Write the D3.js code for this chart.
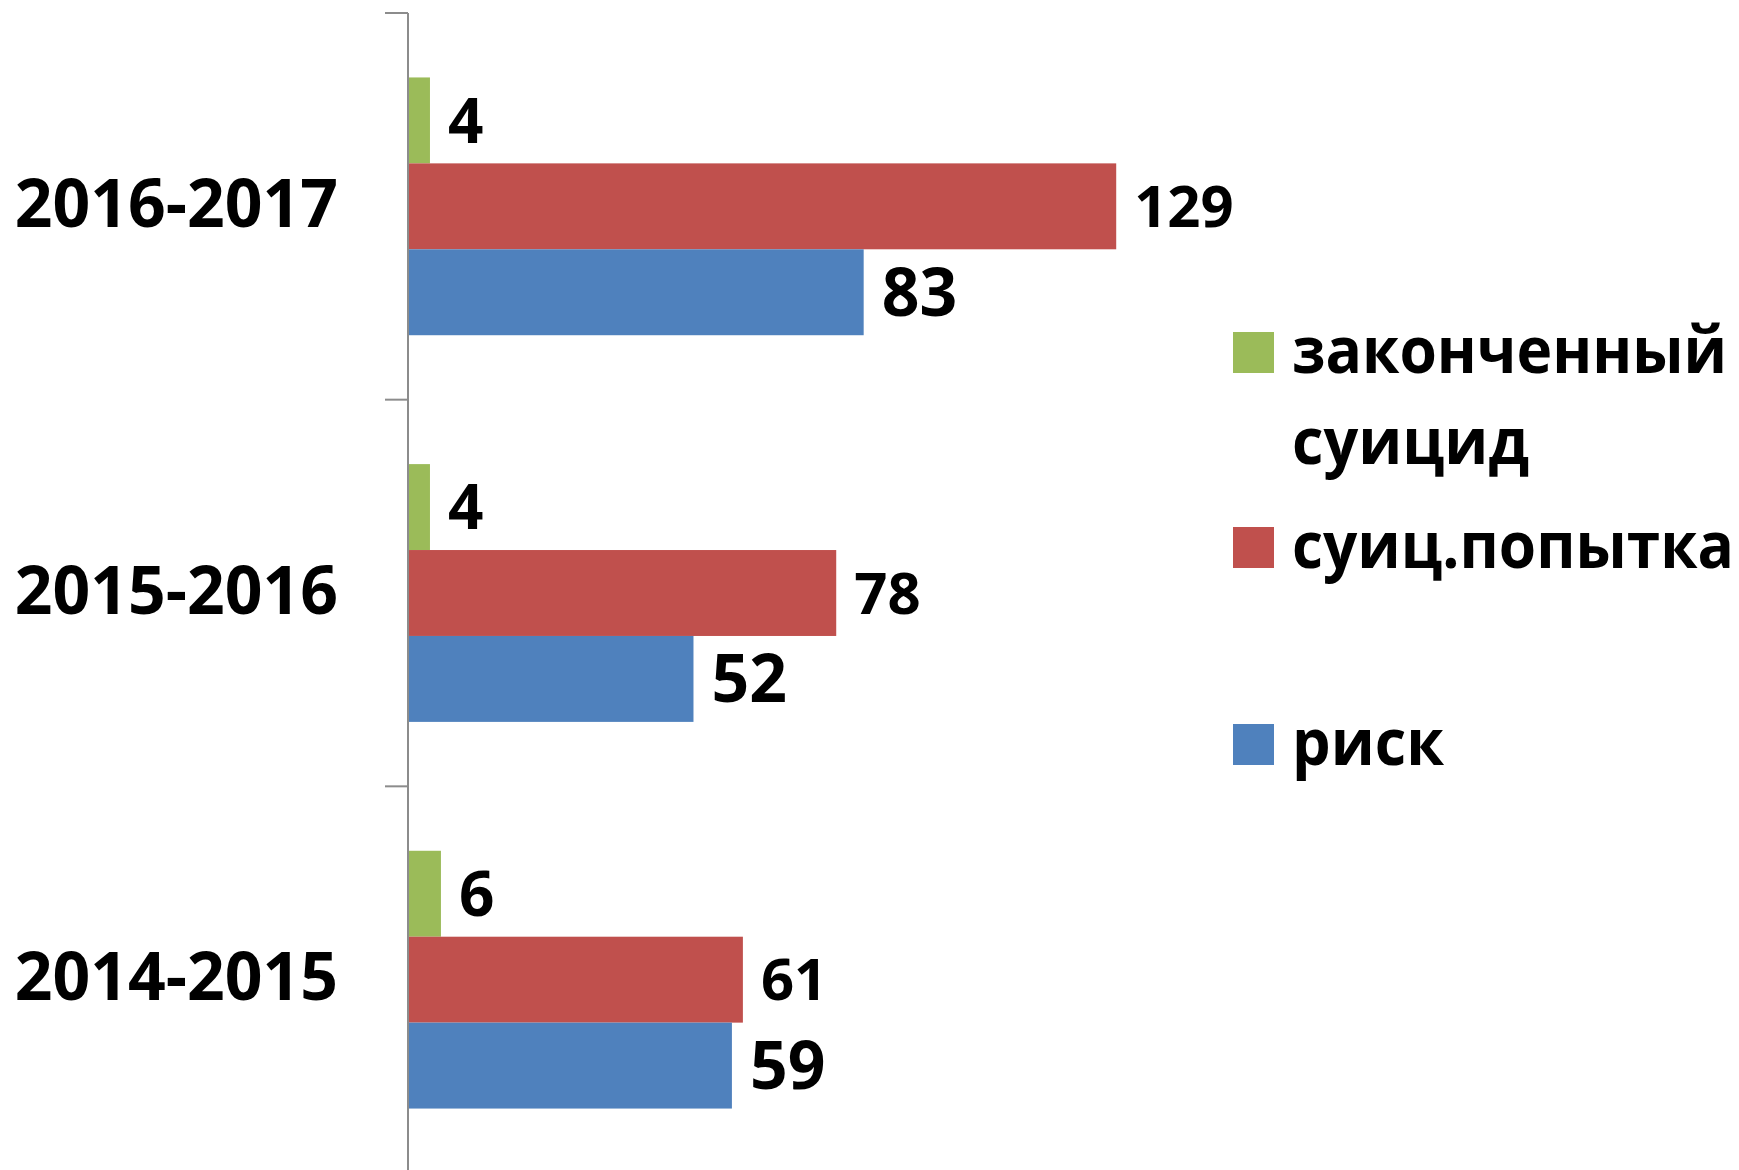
<!DOCTYPE html>
<html>
<head>
<meta charset="utf-8">
<script src="https://cdn.jsdelivr.net/npm/d3@7"></script>
<style>
  body { margin: 0; background: #fff; }
  text { font-family: "Open Sans", sans-serif; font-weight: 700; fill: #000; }
</style>
</head>
<body>
<div id="chart"></div>
<script>
// data
const categories = ['2016-2017', '2015-2016', '2014-2015'];
const seriesNames = ['законченный суицид', 'суиц.попытка', 'риск'];
const completed = [4, 4, 6];
const attempts = [129, 78, 61];
const risk = [83, 52, 59];

const width = 1739, height = 1170;
const colors = ['#9BBB59', '#C0504D', '#4F81BD'];
const labelSize = [62, 58, 66];
const seriesValues = [completed, attempts, risk];

const svg = d3.select('#chart').append('svg')
  .attr('width', width).attr('height', height);

const axisX = 408;
const x = d3.scaleLinear().domain([0, 140]).range([axisX, axisX + 140 * 5.49]);
const y0 = d3.scaleBand().domain(categories).range([13, 1173]);
const y1 = d3.scaleBand().domain(d3.range(3)).range([0, y0.bandwidth()]).paddingOuter(0.75);

// axis line + ticks at band edges
const axisG = svg.append('g').attr('stroke', '#8c8c8c').attr('stroke-width', 2);
axisG.append('line').attr('x1', axisX).attr('x2', axisX).attr('y1', 13).attr('y2', height);
axisG.selectAll('.tick').data(categories).enter().append('line')
  .attr('x1', axisX - 23).attr('x2', axisX)
  .attr('y1', d => y0(d)).attr('y2', d => y0(d));

// category labels
svg.selectAll('.cat').data(categories).enter().append('text')
  .attr('class', 'cat')
  .attr('x', 338).attr('y', d => y0(d) + y0.bandwidth() / 2 - 3 + 0.357 * 66)
  .attr('text-anchor', 'end').attr('font-size', 66)
  .text(d => d);

// bars
const rows = [];
categories.forEach((c, ci) => {
  seriesValues.forEach((vals, si) => rows.push({ c, si, v: vals[ci] }));
});

const groups = svg.selectAll('.bar').data(rows).enter().append('g');
groups.append('rect')
  .attr('x', axisX + 1)
  .attr('y', d => y0(d.c) + y1(d.si))
  .attr('width', d => x(d.v) - axisX - 1)
  .attr('height', y1.bandwidth())
  .attr('fill', d => colors[d.si]);

groups.append('text')
  .attr('x', d => x(d.v) + 18)
  .attr('y', d => y0(d.c) + y1(d.si) + y1.bandwidth() / 2 + 0.357 * labelSize[d.si])
  .attr('font-size', d => labelSize[d.si])
  .text(d => d.v);

// legend (widths measured on the reference)
const legendItems = [
  { lines: ['законченный', 'суицид'], lens: [435, 237], y: 373 },
  { lines: ['суиц.попытка'], lens: [442], y: 568 },
  { lines: ['риск'], lens: [152], y: 765 }
];
const leg = svg.selectAll('.leg').data(legendItems).enter().append('g');
leg.append('rect')
  .attr('x', 1233).attr('y', d => d.y - 41)
  .attr('width', 41).attr('height', 41)
  .attr('fill', (d, i) => colors[i]);
leg.each(function(d) {
  d3.select(this).selectAll('text').data(d.lines).enter().append('text')
    .attr('x', 1292).attr('y', (l, i) => d.y + i * 91)
    .attr('font-size', 64)
    .attr('textLength', (l, i) => d.lens[i])
    .attr('lengthAdjust', 'spacingAndGlyphs')
    .text(l => l);
});
</script>
</body>
</html>
